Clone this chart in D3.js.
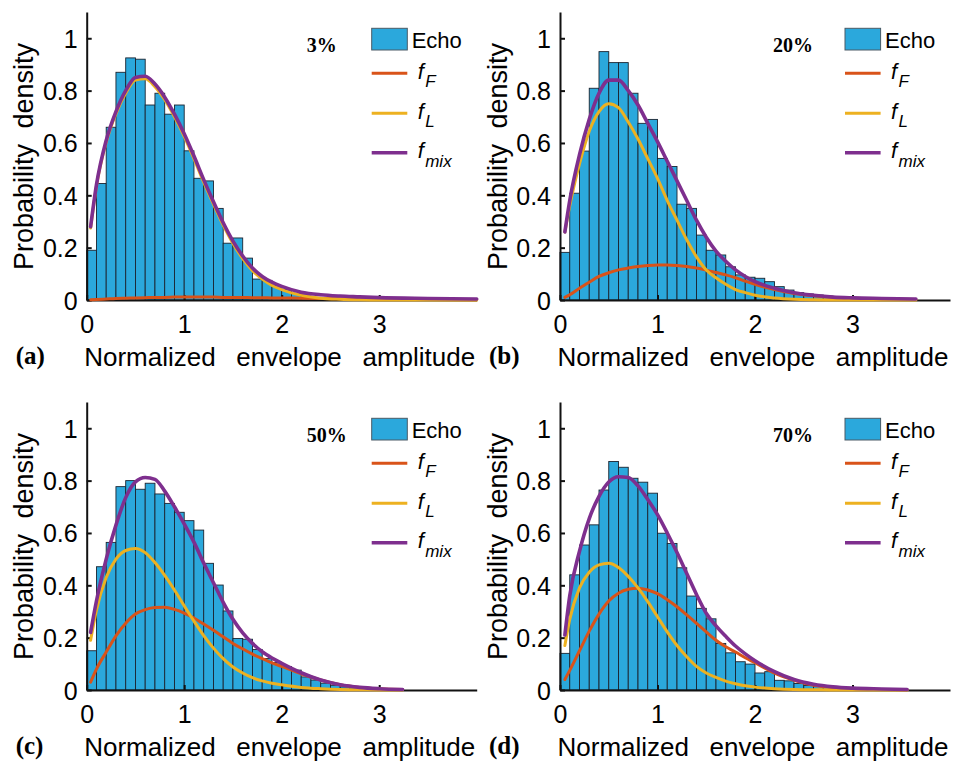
<!DOCTYPE html>
<html><head><meta charset="utf-8">
<script src="https://cdn.jsdelivr.net/npm/d3@7"></script>
<style>body{margin:0;background:#fff}svg{display:block}</style>
</head><body>
<svg id="chart" width="957" height="765"></svg>
<script>
// ---------- DATA ----------
const panelLetters = ["(a)", "(b)", "(c)", "(d)"];
const panelPercents = ["3%", "20%", "50%", "70%"];
const xTickValues = [0, 1, 2, 3];
const xTickLabels = ["0", "1", "2", "3"];
const yTickValues = [0, 0.2, 0.4, 0.6, 0.8, 1];
const yTickLabels = ["0", "0.2", "0.4", "0.6", "0.8", "1"];
const binWidth = 0.1;
const xLabel = "Normalized envelope amplitude";
const yLabel = "Probability density";
const legendNames = ["Echo", "f", "f", "f"];
const legendSubs = ["", "F", "L", "mix"];

// Histogram bar heights (bins of width 0.1 starting at 0)
const binsA = [0.19,0.445,0.66,0.87,0.925,0.92,0.745,0.79,0.71,0.745,0.57,0.465,0.455,0.35,0.217,0.237,0.16,0.08,0.075,0.055,0.04,0.025,0.015,0.01,0.007,0.005,0.004,0.003,0.006,0.004,0.002];
const binsB = [0.182,0.408,0.569,0.809,0.949,0.907,0.907,0.79,0.675,0.69,0.541,0.51,0.366,0.35,0.248,0.19,0.172,0.127,0.096,0.087,0.083,0.07,0.051,0.038,0.028,0.023,0.019,0.015,0.01,0.008,0.006,0.005,0.004,0.003,0.002,0.002];
const binsC = [0.15,0.471,0.564,0.777,0.80,0.767,0.79,0.749,0.713,0.679,0.647,0.611,0.484,0.401,0.302,0.197,0.194,0.155,0.12,0.105,0.09,0.076,0.05,0.038,0.026,0.018,0.012,0.008,0.006,0.004,0.003,0.002];
const binsD = [0.14,0.44,0.554,0.631,0.764,0.873,0.851,0.809,0.794,0.752,0.599,0.56,0.467,0.359,0.312,0.272,0.178,0.142,0.108,0.099,0.065,0.07,0.037,0.035,0.025,0.017,0.013,0.01,0.008,0.006,0.004,0.003,0.002,0.002,0.001];

// Fitted curves
const curveXA = [0.04,0.1,0.2,0.3,0.4,0.5,0.6,0.7,0.8,0.9,1.0,1.1,1.2,1.3,1.4,1.5,1.6,1.7,1.8,1.9,2.0,2.2,2.4,2.6,2.8,3.0,3.5,4.0];
const fFA   = [0.001,0.002,0.004,0.006,0.007,0.008,0.009,0.01,0.01,0.011,0.011,0.011,0.011,0.011,0.01,0.01,0.01,0.009,0.009,0.008,0.008,0.007,0.006,0.005,0.004,0.003,0.002,0.001];
const fLA   = [0.275,0.435,0.603,0.712,0.79,0.84,0.845,0.815,0.765,0.70,0.625,0.54,0.45,0.366,0.286,0.216,0.158,0.112,0.08,0.056,0.04,0.018,0.007,0.003,0.001,0,0,0];
const fmixA = [0.28,0.44,0.61,0.72,0.80,0.85,0.855,0.825,0.775,0.71,0.635,0.55,0.46,0.375,0.295,0.225,0.168,0.122,0.09,0.068,0.052,0.03,0.02,0.015,0.012,0.009,0.006,0.004];

const curveXB = [0.05,0.1,0.2,0.3,0.4,0.5,0.6,0.7,0.8,0.9,1.0,1.1,1.2,1.3,1.4,1.5,1.6,1.7,1.8,1.9,2.0,2.2,2.4,2.6,2.8,3.0,3.3,3.65];
const fFB   = [0.01,0.02,0.045,0.068,0.09,0.104,0.115,0.122,0.128,0.132,0.134,0.134,0.132,0.128,0.122,0.114,0.105,0.096,0.085,0.072,0.06,0.04,0.025,0.016,0.01,0.007,0.004,0.002];
const fLB   = [0.26,0.36,0.52,0.645,0.72,0.75,0.735,0.68,0.615,0.54,0.465,0.38,0.305,0.23,0.165,0.115,0.085,0.06,0.04,0.028,0.018,0.008,0.003,0.001,0,0,0,0];
const fmixB = [0.26,0.38,0.555,0.69,0.79,0.84,0.84,0.80,0.745,0.675,0.605,0.53,0.455,0.38,0.305,0.24,0.187,0.148,0.115,0.09,0.07,0.045,0.028,0.018,0.011,0.008,0.006,0.004];

const curveXC = [0.04,0.1,0.2,0.3,0.4,0.5,0.6,0.7,0.8,0.9,1.0,1.1,1.2,1.3,1.4,1.5,1.6,1.7,1.8,1.9,2.0,2.2,2.4,2.6,2.8,3.0,3.24];
const fFC   = [0.03,0.08,0.145,0.207,0.255,0.29,0.307,0.315,0.316,0.308,0.294,0.275,0.252,0.228,0.203,0.178,0.157,0.137,0.12,0.104,0.09,0.062,0.038,0.02,0.01,0.005,0.002];
const fLC   = [0.19,0.305,0.43,0.50,0.533,0.541,0.525,0.487,0.438,0.382,0.322,0.263,0.208,0.16,0.12,0.088,0.065,0.047,0.035,0.026,0.02,0.01,0.005,0.002,0.001,0,0];
const fmixC = [0.22,0.34,0.50,0.63,0.735,0.795,0.812,0.805,0.76,0.70,0.635,0.565,0.485,0.41,0.335,0.27,0.218,0.178,0.146,0.122,0.102,0.066,0.038,0.02,0.01,0.005,0.002];

const curveXD = [0.05,0.1,0.2,0.3,0.4,0.5,0.6,0.7,0.8,0.9,1.0,1.1,1.2,1.3,1.4,1.5,1.6,1.7,1.8,1.9,2.0,2.2,2.4,2.6,2.8,3.0,3.3,3.56];
const fFD   = [0.04,0.075,0.15,0.225,0.29,0.34,0.37,0.385,0.389,0.382,0.368,0.345,0.318,0.287,0.255,0.222,0.19,0.165,0.145,0.123,0.104,0.064,0.037,0.018,0.009,0.005,0.002,0.001];
const fLD   = [0.17,0.27,0.39,0.45,0.478,0.484,0.468,0.434,0.39,0.338,0.28,0.222,0.17,0.127,0.09,0.065,0.048,0.034,0.024,0.016,0.011,0.005,0.002,0.001,0,0,0,0];
const fmixD = [0.21,0.36,0.53,0.655,0.74,0.795,0.815,0.812,0.78,0.728,0.67,0.6,0.525,0.445,0.365,0.293,0.245,0.205,0.168,0.138,0.112,0.07,0.04,0.022,0.012,0.007,0.004,0.002];

// ---------- DRAW ----------
const svg = d3.select("#chart");
const SANS = "'Liberation Sans', Arial, sans-serif";
const SERIF = "'Liberation Serif', 'Times New Roman', serif";
const colors = {bar: "#2ba8dc", fF: "#D95319", fL: "#EDB120", fmix: "#7E2F8E"};

const panels = [
  {x0: 86.7, y0: 300, bins: binsA, cx: curveXA, fF: fFA, fL: fLA, fmix: fmixA, pctDx: 220},
  {x0: 560,  y0: 300, bins: binsB, cx: curveXB, fF: fFB, fL: fLB, fmix: fmixB, pctDx: 213},
  {x0: 86.7, y0: 690, bins: binsC, cx: curveXC, fF: fFC, fL: fLC, fmix: fmixC, pctDx: 220},
  {x0: 560,  y0: 690, bins: binsD, cx: curveXD, fF: fFD, fL: fLD, fmix: fmixD, pctDx: 213}
];

function spreadWords(sel, target) {
  const n = sel.text().split(" ").length - 1;
  const len = sel.node().getComputedTextLength();
  if (n > 0 && target > len) sel.style("word-spacing", ((target - len) / n) + "px");
}

panels.forEach((p, k) => {
  const g = svg.append("g");
  const x = d3.scaleLinear().domain([0, 4]).range([p.x0, p.x0 + 390]);
  const y = d3.scaleLinear().domain([0, 1.1]).range([p.y0, p.y0 - 287.9]);

  // bars
  g.append("g").selectAll("rect").data(p.bins).join("rect")
    .attr("x", (d, i) => x(i * binWidth))
    .attr("width", (d, i) => x((i + 1) * binWidth) - x(i * binWidth))
    .attr("y", d => y(d))
    .attr("height", d => y(0) - y(d))
    .attr("fill", colors.bar)
    .attr("stroke", "#1b2430")
    .attr("stroke-width", 0.9);

  // axes
  const xAxis = d3.axisBottom(x).tickValues(xTickValues)
    .tickFormat((d, i) => xTickLabels[i]).tickSizeInner(-5).tickSizeOuter(0).tickPadding(0);
  const gx = g.append("g").attr("transform", `translate(0,${p.y0})`).call(xAxis);
  gx.selectAll("text").attr("y", 33).attr("dy", null)
    .attr("font-family", SANS).attr("font-size", 25).attr("fill", "#000");

  const yAxis = d3.axisLeft(y).tickValues(yTickValues)
    .tickFormat((d, i) => yTickLabels[i]).tickSizeInner(-5).tickSizeOuter(0).tickPadding(9);
  const gy = g.append("g").attr("transform", `translate(${p.x0},0)`).call(yAxis);
  gy.selectAll("text").attr("font-family", SANS).attr("font-size", 25).attr("fill", "#000").attr("dy", "0.36em");

  [gx, gy].forEach(a => {
    a.select(".domain").attr("stroke", "#111").attr("stroke-width", 2);
    a.selectAll(".tick line").attr("stroke", "#111").attr("stroke-width", 2);
  });

  // curves
  const line = d3.line().x(d => x(d[0])).y(d => y(d[1])).curve(d3.curveMonotoneX);
  [["fF", p.fF, 3], ["fL", p.fL, 3], ["fmix", p.fmix, 3.6]].forEach(([key, vals, w]) => {
    g.append("path").datum(p.cx.map((v, i) => [v, vals[i]]))
      .attr("d", line).attr("fill", "none")
      .attr("stroke", colors[key]).attr("stroke-width", w)
      .attr("stroke-linejoin", "round").attr("stroke-linecap", "round");
  });

  // percent label
  g.append("text").attr("x", p.x0 + p.pctDx).attr("y", p.y0 - 248)
    .attr("font-family", SERIF).attr("font-weight", "bold").attr("font-size", 20)
    .text(panelPercents[k]);

  // legend
  const lx = p.x0 + 285;
  g.append("rect").attr("x", lx).attr("y", p.y0 - 271.7).attr("width", 35.6).attr("height", 21.7)
    .attr("fill", colors.bar).attr("stroke", "#4a5a66").attr("stroke-width", 1);
  g.append("text").attr("x", p.x0 + 325).attr("y", p.y0 - 252)
    .attr("font-family", SANS).attr("font-size", 22).text(legendNames[0]);
  const lineYs = [p.y0 - 226.7, p.y0 - 186.7, p.y0 - 147.3];
  ["fF", "fL", "fmix"].forEach((key, j) => {
    const ly = lineYs[j];
    g.append("line").attr("x1", lx).attr("x2", lx + 35.6).attr("y1", ly).attr("y2", ly)
      .attr("stroke", colors[key]).attr("stroke-width", j === 2 ? 3.6 : 3);
    g.append("text").attr("x", p.x0 + 331).attr("y", ly + 5.5)
      .attr("font-family", SANS).attr("font-style", "italic").attr("font-size", 22)
      .text(legendNames[j + 1]);
    g.append("text").attr("x", p.x0 + 338.5).attr("y", ly + 14)
      .attr("font-family", SANS).attr("font-style", "italic").attr("font-size", 17)
      .text(legendSubs[j + 1]);
  });

  // axis labels
  const yl = g.append("text")
    .attr("transform", `translate(${p.x0 - 53.5},${p.y0 - 143.5}) rotate(-90)`)
    .attr("text-anchor", "middle")
    .attr("font-family", SANS).attr("font-size", 27).text(yLabel);
  spreadWords(yl, 227);

  const xl = g.append("text").attr("x", p.x0 - 2.5).attr("y", p.y0 + 66)
    .attr("font-family", SANS).attr("font-size", 26).text(xLabel);
  spreadWords(xl, 391);

  g.append("text").attr("x", p.x0 - 71).attr("y", p.y0 + 64)
    .attr("font-family", SERIF).attr("font-weight", "bold").attr("font-size", 25)
    .text(panelLetters[k]);
});
</script>
</body></html>
